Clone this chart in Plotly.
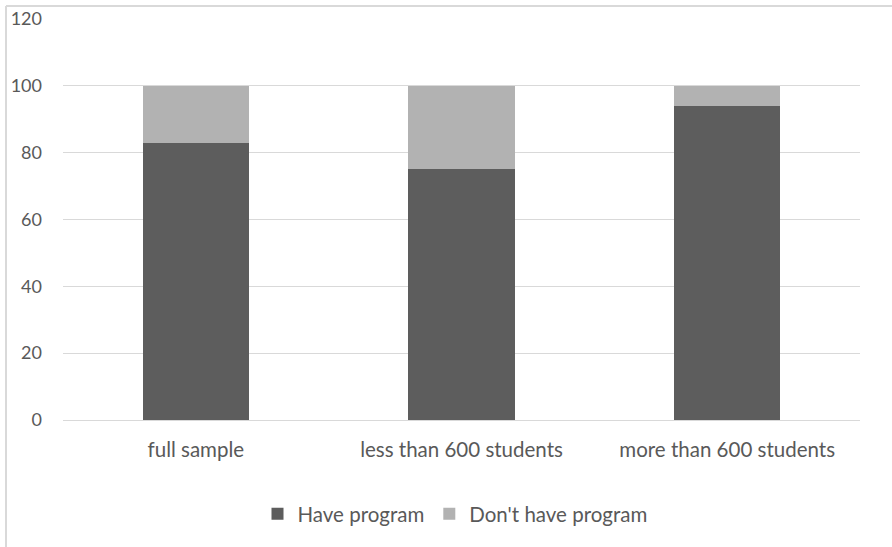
import plotly.graph_objects as go

categories = ["full sample", "less than 600 students", "more than 600 students"]
have_program = [83, 75, 94]
dont_have_program = [17, 25, 6]
y_ticks = [0, 20, 40, 60, 80, 100, 120]

W, H = 892, 547
L, R, T, B = 63, 32, 19, 127
pw, ph = W - L - R, H - T - B

def px_x(px):
    return (px - L) / pw

def px_y(py):
    return (H - B - py) / ph

font_family = "Lato, 'Open Sans', sans-serif"

fig = go.Figure()
fig.add_trace(go.Bar(x=categories, y=have_program, name="Have program",
                     marker=dict(color="#5d5d5d", line=dict(width=0))))
fig.add_trace(go.Bar(x=categories, y=dont_have_program, name="Don't have program",
                     marker=dict(color="#b2b2b2", line=dict(width=0))))

fig.update_layout(
    width=W, height=H,
    barmode="stack",
    bargap=0.6,
    margin=dict(l=L, r=R, t=T, b=B, autoexpand=False),
    paper_bgcolor="white",
    plot_bgcolor="white",
    font=dict(family=font_family, color="#595959", size=19),
    xaxis=dict(showgrid=False, showline=False, ticks="", automargin=False,
               ticklabelstandoff=15,
               tickfont=dict(size=20.5, color="#595959")),
    yaxis=dict(range=[0, 120], tickvals=y_ticks, showgrid=True, automargin=False,
               gridcolor="#d9d9d9", gridwidth=1, zeroline=True,
               zerolinecolor="#d9d9d9", zerolinewidth=1, ticks="",
               ticklabelstandoff=20,
               tickfont=dict(size=18, color="#595959")),
    legend=dict(orientation="h", x=px_x(455), xanchor="center",
                y=px_y(514), yanchor="middle",
                font=dict(size=20.5, color="#595959"),
                itemwidth=30, traceorder="normal"),
    shapes=[
        dict(type="line", xref="paper", yref="paper",
             x0=px_x(6), x1=px_x(892), y0=px_y(6), y1=px_y(6),
             line=dict(color="#d9d9d9", width=2)),
        dict(type="line", xref="paper", yref="paper",
             x0=px_x(6), x1=px_x(6), y0=px_y(6), y1=px_y(547),
             line=dict(color="#d9d9d9", width=2)),
    ],
)

fig.write_html("out.html")
